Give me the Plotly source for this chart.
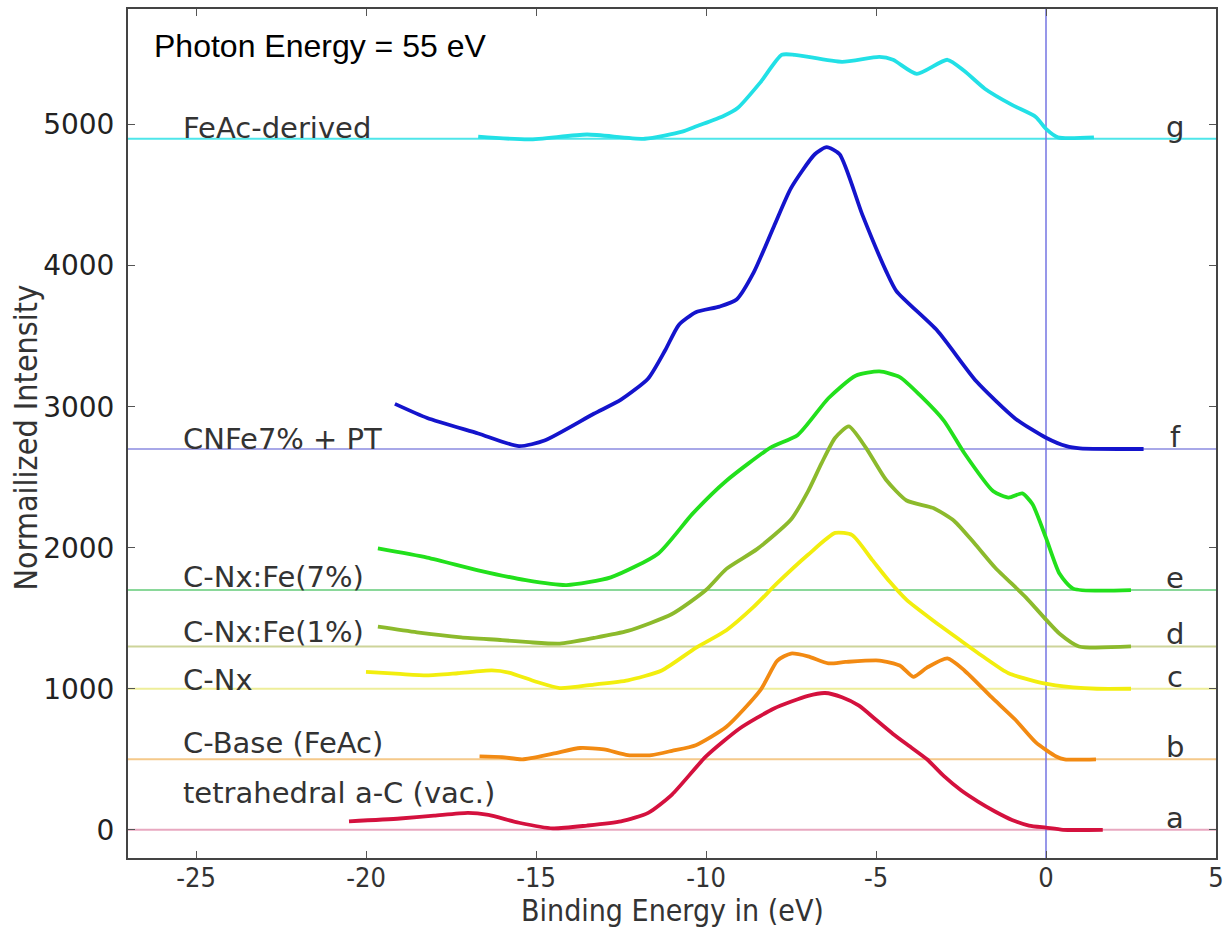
import plotly.graph_objects as go

# ---------------- data ----------------
x_a = [-20.5, -19, -18, -17, -16.4, -15.5, -14.5, -13.5, -12.5, -11.7, -11, -10, -9, -8, -7, -6.5, -6,
       -5.5, -5, -4.5, -4, -3.5, -3, -2.5, -2, -1.5, -1, -0.5, 0, 0.5, 1.67]
y_a = [60, 80, 100, 120, 105, 50, 10, 30, 60, 120, 250, 520, 720, 860, 950, 970, 940,
       880, 780, 680, 590, 500, 380, 280, 200, 130, 70, 30, 15, 0, 0]

x_b = [-16.66, -16, -15.4, -14.5, -13.7, -13, -12.3, -11.6, -11, -10.3, -9.4, -8.4, -7.9, -7.5, -7,
       -6.4, -5.9, -4.9, -4.3, -3.9, -3.5, -2.9, -2.4, -1.6, -0.9, -0.3, 0.3, 0.55, 1.47]
y_b = [520, 515, 500, 540, 580, 570, 530, 530, 560, 600, 730, 990, 1200, 1250, 1230,
       1180, 1190, 1200, 1165, 1085, 1150, 1215, 1130, 940, 780, 620, 520, 500, 500]

x_c = [-20.0, -19, -18.2, -17.3, -16.3, -15.8, -15, -14.3, -13.3, -12.3, -11.3, -10.3, -9.4, -8.6, -7.9,
       -7, -6.2, -5.7, -5.1, -4.6, -4.1, -3.3, -2.5, -1.8, -1.1, -0.1, 0.8, 1.5, 2.5]
y_c = [1120, 1105, 1095, 1110, 1130, 1115, 1050, 1005, 1030, 1060, 1130, 1290, 1415, 1580, 1750,
       1950, 2105, 2090, 1910, 1760, 1630, 1480, 1340, 1220, 1110, 1040, 1010, 1000, 1000]

x_d = [-19.65, -18.5, -17.2, -16, -15.2, -14.3, -13.3, -12.3, -11, -10, -9.4, -8.5, -7.5, -7.0, -6.6,
       -6.2, -5.8, -5.3, -4.7, -4.1, -3.3, -2.7, -2.1, -1.5, -0.6, 0, 0.4, 0.97, 2.5]
y_d = [1440, 1400, 1365, 1345, 1330, 1320, 1360, 1410, 1530, 1700, 1850, 1990, 2200, 2400, 2600,
       2780, 2860, 2710, 2480, 2335, 2280, 2190, 2030, 1860, 1650, 1490, 1390, 1300, 1300]

x_e = [-19.65, -18.2, -16.7, -15.3, -14.1, -12.8, -11.4, -10.4, -9.4, -8.1, -7.3, -6.4, -5.6, -4.9,
       -4.3, -3.7, -3.0, -2.4, -1.55, -1.1, -0.7, -0.4, 0, 0.4, 0.8, 2.5]
y_e = [1995, 1930, 1840, 1770, 1735, 1790, 1960, 2240, 2475, 2710, 2800, 3060, 3220, 3250,
       3210, 3080, 2900, 2670, 2400, 2355, 2385, 2310, 2070, 1815, 1710, 1700]

x_f = [-19.15, -18.2, -16.7, -15.5, -14.75, -13.3, -12.5, -11.7, -11.2, -10.8, -10.3, -9.6, -9.1, -8.6,
       -8.0, -7.5, -6.8, -6.45, -6.07, -5.4, -4.7, -4.4, -3.2, -2.05, -0.9, 0, 0.6, 1.0, 2.87]
y_f = [3020, 2920, 2810, 2720, 2760, 2950, 3050, 3200, 3400, 3580, 3670, 3710, 3760, 3950,
       4280, 4550, 4790, 4840, 4790, 4360, 3960, 3820, 3540, 3180, 2915, 2780, 2720, 2705, 2700]

x_g = [-16.7, -15.2, -13.5, -11.8, -10.7, -10.26, -9.5, -9.06, -8.4, -7.77, -7.39, -6.0, -4.9, -4.5, -3.8,
       -2.9, -2.4, -1.8, -1.0, -0.3, 0.0, 0.35, 1.41]
y_g = [4915, 4895, 4930, 4900, 4950, 4990, 5060, 5120, 5300, 5495, 5495, 5445, 5480, 5460, 5360,
       5460, 5380, 5255, 5140, 5055, 4970, 4910, 4910]

sample_names = ["tetrahedral a-C (vac.)", "C-Base (FeAc)", "C-Nx", "C-Nx:Fe(1%)",
                "C-Nx:Fe(7%)", "CNFe7% + PT", "FeAc-derived"]
sample_letters = ["a", "b", "c", "d", "e", "f", "g"]
baselines = [0, 500, 1000, 1300, 1700, 2700, 4900]

x_tick_values = [-25, -20, -15, -10, -5, 0, 5]
x_tick_labels = ["-25", "-20", "-15", "-10", "-5", "0", "5"]
y_tick_values = [0, 1000, 2000, 3000, 4000, 5000]
y_tick_labels = ["0", "1000", "2000", "3000", "4000", "5000"]

# ---------------- styles ----------------
curve_colors = ["#d4113e", "#f28a12", "#f2ee0e", "#8cba2c", "#22e01c", "#1414cc", "#22e0e6"]
base_colors = ["#e8a8c0", "#f5c98a", "#eeee9a", "#cdd49a", "#8ad89a", "#a8a8e8", "#4ee6ea"]
label_shift = [37, 16, 9, 14, 13, 10, 11]

xs = [x_a, x_b, x_c, x_d, x_e, x_f, x_g]
ys = [y_a, y_b, y_c, y_d, y_e, y_f, y_g]

XMIN, XMAX = -27, 5
YMIN, YMAX = -200, 5820

fig = go.Figure()

# baselines
for i, b in enumerate(baselines):
    fig.add_trace(go.Scatter(x=[XMIN, XMAX], y=[b, b], mode="lines",
                             line=dict(color=base_colors[i], width=2),
                             hoverinfo="skip", showlegend=False))

# vertical line at 0
fig.add_trace(go.Scatter(x=[0, 0], y=[YMIN, YMAX], mode="lines",
                         line=dict(color="#7474e2", width=1.5),
                         hoverinfo="skip", showlegend=False))

# spectra
for i in range(len(xs)):
    fig.add_trace(go.Scatter(x=xs[i], y=ys[i], mode="lines", name=sample_names[i],
                             line=dict(color=curve_colors[i], width=3.8, shape="spline", smoothing=0.6),
                             showlegend=False))

annotations = []
label_font = dict(family="DejaVu Sans, Verdana, sans-serif", size=29, color="#333333")
for i, b in enumerate(baselines):
    annotations.append(dict(x=-25.45, y=b, xref="x", yref="y", text=sample_names[i],
                            showarrow=False, xanchor="left", yanchor="middle",
                            yshift=label_shift[i], font=label_font))
    annotations.append(dict(x=3.8, y=b, xref="x", yref="y", text=sample_letters[i],
                            showarrow=False, xanchor="center", yanchor="middle",
                            yshift=12, font=label_font))

annotations.append(dict(x=-26.3, y=5558, xref="x", yref="y", text="Photon Energy = 55 eV",
                        showarrow=False, xanchor="left", yanchor="middle",
                        font=dict(family="Liberation Sans, Arial, sans-serif", size=32, color="#000000")))

# axis titles
annotations.append(dict(x=0.5, y=-0.062, xref="paper", yref="paper", text="Binding Energy in (eV)",
                        showarrow=False, xanchor="center", yanchor="middle",
                        font=dict(family="DejaVu Sans Condensed, DejaVu Sans, sans-serif", size=30, color="#333333")))
annotations.append(dict(x=-0.094, y=0.495, xref="paper", yref="paper", text="Normailized Intensity",
                        showarrow=False, xanchor="center", yanchor="middle", textangle=-90,
                        font=dict(family="DejaVu Sans Condensed, DejaVu Sans, sans-serif", size=32, color="#333333")))

fig.update_layout(
    width=1231, height=930,
    margin=dict(l=128, r=11, t=7, b=72),
    paper_bgcolor="white", plot_bgcolor="white",
    annotations=annotations,
    showlegend=False,
)
fig.update_xaxes(range=[XMIN, XMAX], tickvals=x_tick_values, ticktext=x_tick_labels,
                 showgrid=False, zeroline=False, showline=True, linecolor="#444444", linewidth=2,
                 mirror="ticks", ticks="inside", ticklen=7, tickcolor="#555555", ticklabelstandoff=-5,
                 tickfont=dict(family="DejaVu Sans Condensed, DejaVu Sans, sans-serif", size=27, color="#333333"))
fig.update_yaxes(range=[YMIN, YMAX], tickvals=y_tick_values, ticktext=y_tick_labels,
                 showgrid=False, zeroline=False, showline=True, linecolor="#444444", linewidth=2,
                 mirror="ticks", ticks="inside", ticklen=7, tickcolor="#555555", ticklabelstandoff=6,
                 tickfont=dict(family="DejaVu Sans, Verdana, sans-serif", size=28, color="#222222"))

fig.write_html("out.html")
